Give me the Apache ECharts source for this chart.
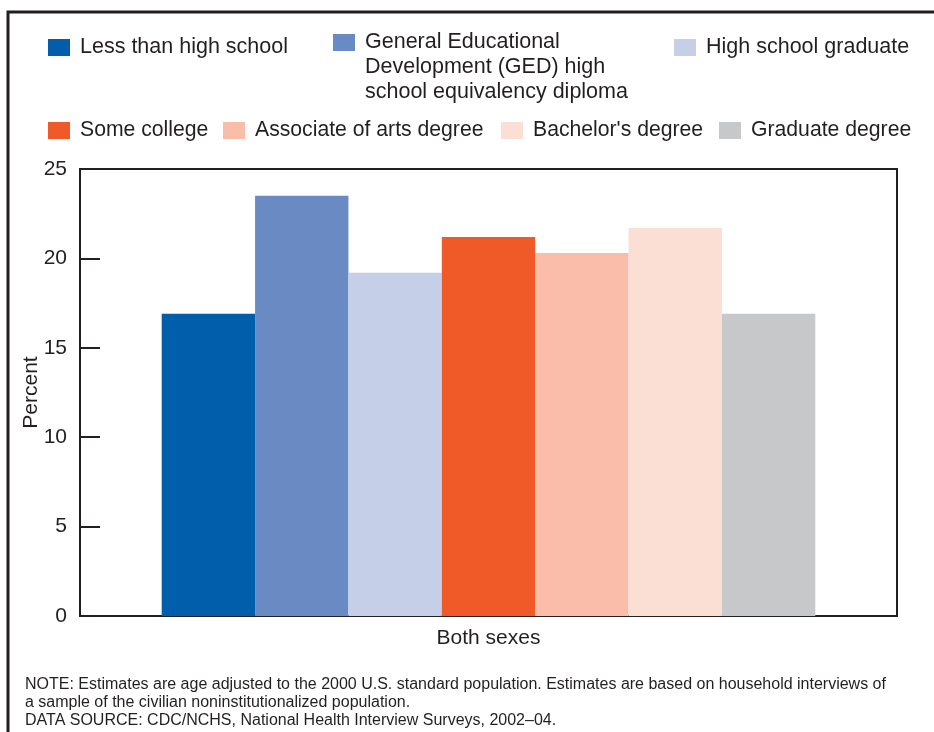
<!DOCTYPE html>
<html>
<head>
<meta charset="utf-8">
<script src="https://cdn.jsdelivr.net/npm/echarts@6/dist/echarts.min.js"></script>
<style>
html,body{margin:0;padding:0;background:#fff;}
#chart{width:934px;height:732px;}
</style>
</head>
<body>
<div id="chart"></div>
<script>
const categories = ['Both sexes'];
const seriesNames = [
  'Less than high school',
  'General Educational Development (GED) high school equivalency diploma',
  'High school graduate',
  'Some college',
  'Associate of arts degree',
  "Bachelor's degree",
  'Graduate degree'
];
const seriesValues = [16.9, 23.5, 19.2, 21.2, 20.3, 21.7, 16.9];
const colors = ['#005EAA', '#6A8AC3', '#C5CFE7', '#F05A28', '#F9BDAA', '#FBDED4', '#C7C8CA'];
const yTicks = [0, 5, 10, 15, 20, 25];
const noteText = 'NOTE: Estimates are age adjusted to the 2000 U.S. standard population. Estimates are based on household interviews of\na sample of the civilian noninstitutionalized population.\nDATA SOURCE: CDC/NCHS, National Health Interview Surveys, 2002\u201304.';

const FONT = 'Liberation Sans, Arial, Helvetica, sans-serif';
const TXT = '#231f20';

const legendPos = [
  {left: 48, top: 35},
  {left: 333, top: 34},
  {left: 674, top: 35},
  {left: 48, top: 118},
  {left: 223, top: 118},
  {left: 501, top: 118},
  {left: 719, top: 118}
];

const legends = seriesNames.map((n, i) => {
  const isGed = i === 1;
  return {
    data: [n],
    left: legendPos[i].left,
    top: isGed ? legendPos[i].top - 54 : legendPos[i].top,
    padding: 0,
    itemWidth: 22,
    itemHeight: 17,
    icon: 'rect',
    selectedMode: false,
    formatter: isGed ? '\n\nGeneral Educational\nDevelopment (GED) high\nschool equivalency diploma' : '{name}',
    textStyle: {
      fontFamily: FONT,
      fontSize: i < 3 ? 21.5 : 21.2,
      color: TXT,
      lineHeight: 25,
      padding: [0, 0, 0, 5]
    }
  };
});

const chart = echarts.init(document.getElementById('chart'), null, {renderer: 'canvas'});
chart.setOption({
  animation: false,
  backgroundColor: '#fff',
  legend: legends,
  grid: {
    left: 80, right: 37, top: 169, bottom: 116,
    show: true, borderColor: TXT, borderWidth: 2, backgroundColor: 'transparent'
  },
  xAxis: {
    type: 'category',
    data: categories,
    axisLine: {lineStyle: {color: TXT, width: 2}},
    axisTick: {show: false},
    axisLabel: {fontFamily: FONT, fontSize: 21, color: TXT, margin: 12}
  },
  yAxis: {
    type: 'value',
    min: yTicks[0], max: yTicks[yTicks.length - 1], interval: 5,
    name: 'Percent',
    nameLocation: 'middle',
    nameGap: 38,
    nameMoveOverlap: false,
    nameTextStyle: {fontFamily: FONT, fontSize: 21, color: TXT},
    axisLine: {show: true, lineStyle: {color: TXT, width: 2}},
    axisTick: {show: true, inside: true, length: 20, lineStyle: {color: TXT, width: 2}},
    axisLabel: {fontFamily: FONT, fontSize: 21, color: TXT, margin: 13},
    splitLine: {show: false}
  },
  series: seriesNames.map((n, i) => ({
    name: n,
    type: 'bar',
    data: [seriesValues[i]],
    itemStyle: {color: colors[i]},
    barGap: 0,
    barCategoryGap: '20%'
  })),
  color: colors,
  graphic: [
    {
      type: 'rect', silent: true,
      shape: {x: 8, y: 12, width: 940, height: 740},
      style: {fill: 'none', stroke: TXT, lineWidth: 3}
    },
    {
      type: 'text', left: 25, top: 676,
      style: {text: noteText, fontFamily: FONT, fontSize: 16, lineHeight: 18, fill: TXT}
    }
  ]
});
</script>
</body>
</html>
